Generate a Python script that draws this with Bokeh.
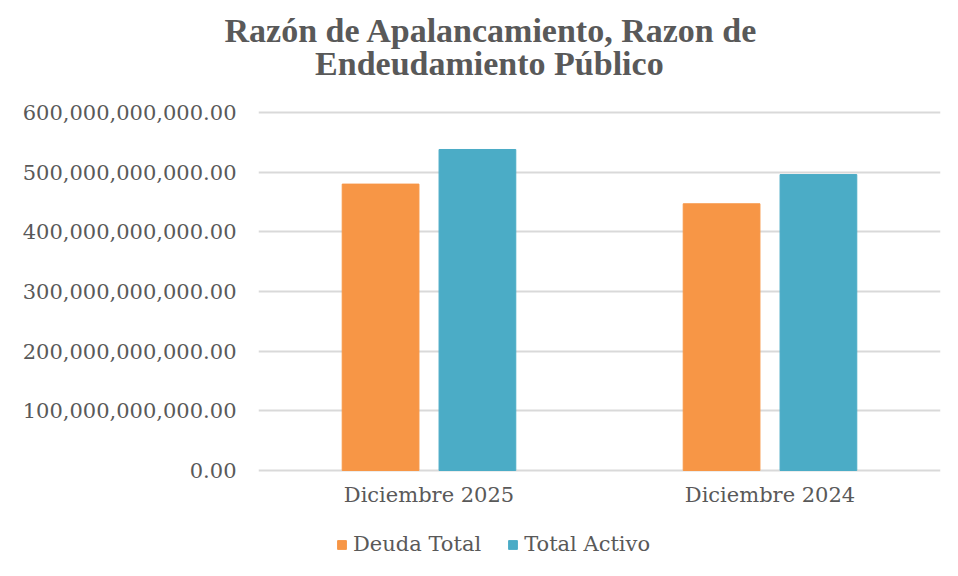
from bokeh.plotting import figure
from bokeh.models import ColumnDataSource, NumeralTickFormatter, Legend, LegendItem, FactorRange, Range1d, FixedTicker, Label, Title
from bokeh.core.properties import value
from bokeh.transform import dodge
from bokeh.embed import file_html
from bokeh.resources import INLINE

categories = ["Diciembre 2025", "Diciembre 2024"]
deuda_total = [480e9, 447e9]
total_activo = [538e9, 496e9]
y_ticks = [0, 100e9, 200e9, 300e9, 400e9, 500e9, 600e9]
title_lines = ["Razón de Apalancamiento, Razon de", "Endeudamiento Público"]

source = ColumnDataSource(dict(cat=categories, deuda=deuda_total, activo=total_activo))

ORANGE = "#F79646"
TEAL = "#4BACC6"
SERIF = "DejaVu Serif"
TXT = "#595959"

# vertical layout: value axis 0..600e9 spans 358 px; frame runs from 48 px to the bottom
PX = 600e9 / 358.0
TOP = 48
y_lo, y_hi = -106 * PX, (470 - TOP) * PX

p = figure(x_range=FactorRange(*categories), y_range=Range1d(y_lo, y_hi),
           width=958, height=576, frame_width=682, frame_height=576 - TOP,
           output_backend="svg", toolbar_location=None, x_axis_location=None,
           min_border_left=258, min_border_right=18, min_border_top=TOP, min_border_bottom=0,
           title=None)

r1 = p.vbar(x=dodge("cat", -0.142, range=p.x_range), top="deuda", width=0.225,
            source=source, color=ORANGE)
r2 = p.vbar(x=dodge("cat", 0.142, range=p.x_range), top="activo", width=0.225,
            source=source, color=TEAL)

# category labels under the baseline
p.text(x="cat", y=-24 * PX, text="cat", source=source,
       text_align="center", text_baseline="alphabetic",
       text_font=value(SERIF), text_font_size="21px", text_color=TXT)

# title: first line in the panel above, second line just inside the frame
p.add_layout(Title(text=title_lines[0], align="left", offset=-34, standoff=0,
                   text_font="Liberation Serif", text_font_size="34px",
                   text_font_style="bold", text_color=TXT), "above")
p.add_layout(Label(x=0.677, y=407 * PX, text=title_lines[1],
                   text_align="center", text_baseline="alphabetic",
                   text_font="Liberation Serif", text_font_size="34px",
                   text_font_style="bold", text_color=TXT))

p.yaxis.ticker = FixedTicker(ticks=y_ticks)
p.yaxis.formatter = NumeralTickFormatter(format="0,0.00")
p.yaxis.axis_line_color = None
p.yaxis.major_tick_line_color = None
p.yaxis.minor_tick_line_color = None
p.yaxis.major_label_text_font = SERIF
p.yaxis.major_label_text_font_size = "21px"
p.yaxis.major_label_text_color = TXT
p.yaxis.major_label_standoff = 16

p.xgrid.grid_line_color = None
p.ygrid.ticker = FixedTicker(ticks=y_ticks)
p.ygrid.grid_line_color = "#d9d9d9"
p.ygrid.grid_line_width = 2
p.outline_line_color = None

legend = Legend(items=[LegendItem(label="Deuda Total", renderers=[r1]),
                       LegendItem(label="Total Activo", renderers=[r2])],
                orientation="horizontal", location=(78, 20),
                glyph_width=11, glyph_height=11, spacing=26,
                label_text_font=SERIF, label_text_font_size="21px",
                label_text_color=TXT, border_line_color=None,
                background_fill_alpha=0,
                padding=0, margin=0, label_standoff=6)
p.add_layout(legend)

open("out.html", "w").write(file_html(p, INLINE))
